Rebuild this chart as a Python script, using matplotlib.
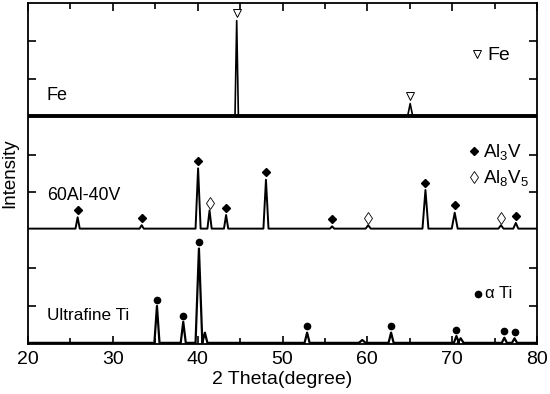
import numpy as np
import matplotlib
matplotlib.use("Agg")
import matplotlib.pyplot as plt
from matplotlib.ticker import MultipleLocator

plt.rcParams['font.family'] = ['Liberation Sans', 'DejaVu Sans']
plt.rcParams['mathtext.fontset'] = 'custom'
plt.rcParams['mathtext.rm'] = 'Liberation Sans'
plt.rcParams['mathtext.it'] = 'Liberation Sans:italic'

# peak lists: position (2theta), height (panel units), half width
fe_pos = [44.6, 65.05]
fe_height = [0.84, 0.11]
fe_hw = [0.2, 0.3]

alv_pos = [25.85, 33.4, 40.05, 41.4, 43.35, 48.05, 55.85, 60.1, 66.85, 70.3, 75.75, 77.5]
alv_height = [0.10, 0.03, 0.53, 0.16, 0.12, 0.43, 0.02, 0.03, 0.34, 0.14, 0.03, 0.05]
alv_hw = [0.25, 0.25, 0.3, 0.25, 0.25, 0.3, 0.25, 0.3, 0.35, 0.35, 0.3, 0.3]
alv_phase = ['Al3V', 'Al3V', 'Al3V', 'Al8V5', 'Al3V', 'Al3V', 'Al3V', 'Al8V5', 'Al3V', 'Al3V', 'Al8V5', 'Al3V']

ti_pos = [35.2, 38.3, 40.15, 40.85, 52.9, 59.4, 62.8, 70.5, 71.0, 76.15, 77.35]
ti_height = [0.325, 0.185, 0.83, 0.09, 0.09, 0.025, 0.09, 0.06, 0.04, 0.045, 0.04]
ti_hw = [0.3, 0.3, 0.4, 0.3, 0.3, 0.4, 0.3, 0.3, 0.35, 0.3, 0.3]
ti_marked = [True, True, True, False, True, False, True, True, False, True, True]

x_ticks = [20, 30, 40, 50, 60, 70, 80]
labels = ['Ultrafine Ti', '60Al-40V', 'Fe']
base = [0.01, 1.015, 2.005]


def trace(pos, height, hw, b):
	xs = [20.0]
	ys = [b]
	for p, h, w in zip(pos, height, hw):
		xs += [p - w, p, p + w]
		ys += [b, b + h, b]
	xs.append(80.0)
	ys.append(b)
	return np.array(xs), np.array(ys)


fig = plt.figure(figsize=(5.5, 3.94), dpi=100)
ax = fig.add_axes([28 / 550, 50 / 394, 509 / 550, 341 / 394])

off = 0.065

# Fe (noisy baseline drawn as a thicker band)
x, y = trace(fe_pos, fe_height, fe_hw, base[2])
ax.plot(x, y, color='black', lw=1.2)
ax.plot([x[0], x[-1]], [base[2], base[2]], color='black', lw=2.8)
for p, h in zip(fe_pos, fe_height):
	ax.plot(p, base[2] + h + off, marker='v', ms=6, mfc='white', mec='black', mew=0.7)

# 60Al-40V
x, y = trace(alv_pos, alv_height, alv_hw, base[1])
ax.plot(x, y, color='black', lw=1.4)
for p, h, ph in zip(alv_pos, alv_height, alv_phase):
	if ph == 'Al3V':
		ax.plot(p, base[1] + h + off, marker='D', ms=4.5, mfc='black', mec='black')
	else:
		ax.plot(p, base[1] + h + off, marker='d', ms=6.5, mfc='white', mec='black', mew=0.6)

# Ultrafine Ti
x, y = trace(ti_pos, ti_height, ti_hw, base[0])
ax.plot(x, y, color='black', lw=1.6)
for p, h, m in zip(ti_pos, ti_height, ti_marked):
	if m:
		ax.plot(p, base[0] + h + 0.055, marker='o', ms=4.5, color='black')

# sample names
ax.text(22.2, 2.19, labels[2], fontsize=13, va='center')
ax.text(22.2, 1.31, labels[1], fontsize=12.8, va='center')
ax.text(22.2, 0.255, labels[0], fontsize=12.3, va='center')

# phase keys
ax.plot(72.95, 2.55, marker='v', ms=5.5, mfc='white', mec='black', mew=0.7)
ax.text(74.2, 2.54, 'Fe', fontsize=14, va='center')
ax.plot(72.6, 1.70, marker='D', ms=4.5, color='black')
ax.text(73.6, 1.69, 'Al$_3$V', fontsize=13.5, va='center')
ax.plot(72.6, 1.47, marker='d', ms=6.5, mfc='white', mec='black', mew=0.6)
ax.text(73.6, 1.46, 'Al$_8$V$_5$', fontsize=13.5, va='center')
ax.plot(73.1, 0.44, marker='o', ms=4.5, color='black')
ax.text(73.9, 0.44, 'α Ti', fontsize=12, va='center')

ax.set_xlim(20, 80)
ax.set_ylim(0, 3)
ax.set_xticks(x_ticks)
ax.xaxis.set_minor_locator(MultipleLocator(5))
ax.set_yticks([1 / 3, 2 / 3, 4 / 3, 5 / 3, 7 / 3, 8 / 3])
ax.set_yticklabels([])
ax.tick_params(which='both', direction='in', top=True, right=True, width=1.2)
ax.tick_params(which='major', length=6, labelsize=14, pad=5)
ax.tick_params(which='minor', length=4)
for s in ax.spines.values():
	s.set_linewidth(1.3)

ax.set_xlabel('2 Theta(degree)', fontsize=14, labelpad=2)
ax.set_ylabel('Intensity', fontsize=13.5, labelpad=2)

plt.savefig('out.png', dpi=100)
